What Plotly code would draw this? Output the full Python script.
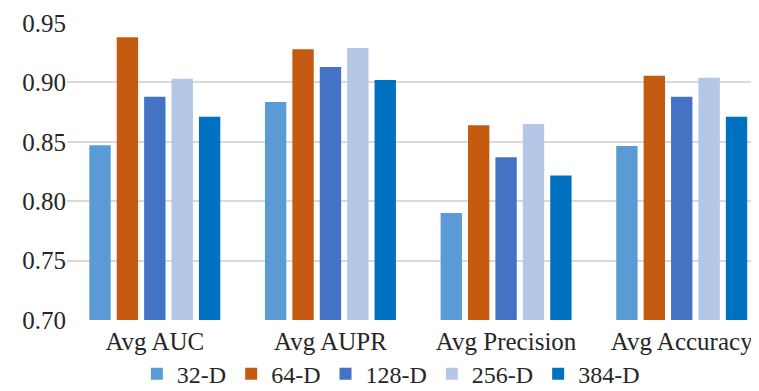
import plotly.graph_objects as go

categories = ["Avg AUC", "Avg AUPR", "Avg Precision", "Avg Accuracy"]
series_names = ["32-D", "64-D", "128-D", "256-D", "384-D"]
vals_32 = [0.847, 0.8835, 0.790, 0.8465]
vals_64 = [0.938, 0.928, 0.864, 0.9056]
vals_128 = [0.888, 0.913, 0.837, 0.888]
vals_256 = [0.903, 0.929, 0.865, 0.904]
vals_384 = [0.871, 0.902, 0.8216, 0.871]
colors = ["#5B9BD5", "#C55A11", "#4472C4", "#B4C7E7", "#0070C0"]
y_ticks = [0.70, 0.75, 0.80, 0.85, 0.90, 0.95]

fig = go.Figure()
for name, vals, c in zip(series_names, [vals_32, vals_64, vals_128, vals_256, vals_384], colors):
    fig.add_trace(go.Bar(x=categories, y=vals, name=name, marker=dict(color=c, line=dict(width=0))))

font = dict(family="Liberation Serif, Times New Roman, serif", size=25, color="#262626")
fig.update_layout(
    width=751, height=383,
    margin=dict(l=59, r=0, t=15, b=71, autoexpand=False),
    paper_bgcolor="white", plot_bgcolor="white",
    barmode="group", bargap=0.22, bargroupgap=0.22,
    font=font,
    showlegend=True,
    legend=dict(orientation="h", x=0.468, xanchor="center", y=-0.182, yanchor="middle",
                font=dict(family=font["family"], size=24, color=font["color"]),
                itemwidth=30, traceorder="normal", tracegroupgap=0,
                bgcolor="rgba(0,0,0,0)"),
    xaxis=dict(range=[-0.5, 3.44], showgrid=False, showline=False, zeroline=False,
               ticks="", tickfont=font, automargin=False, ticklabelstandoff=4),
    yaxis=dict(range=[0.70, 0.95], tickvals=y_ticks, ticktext=[f"{v:.2f}" for v in y_ticks],
               showgrid=True, gridcolor="#D9D9D9", gridwidth=2, zeroline=False, showline=False,
               ticks="", tickfont=font, automargin=False),
)
fig.write_html("out.html")
